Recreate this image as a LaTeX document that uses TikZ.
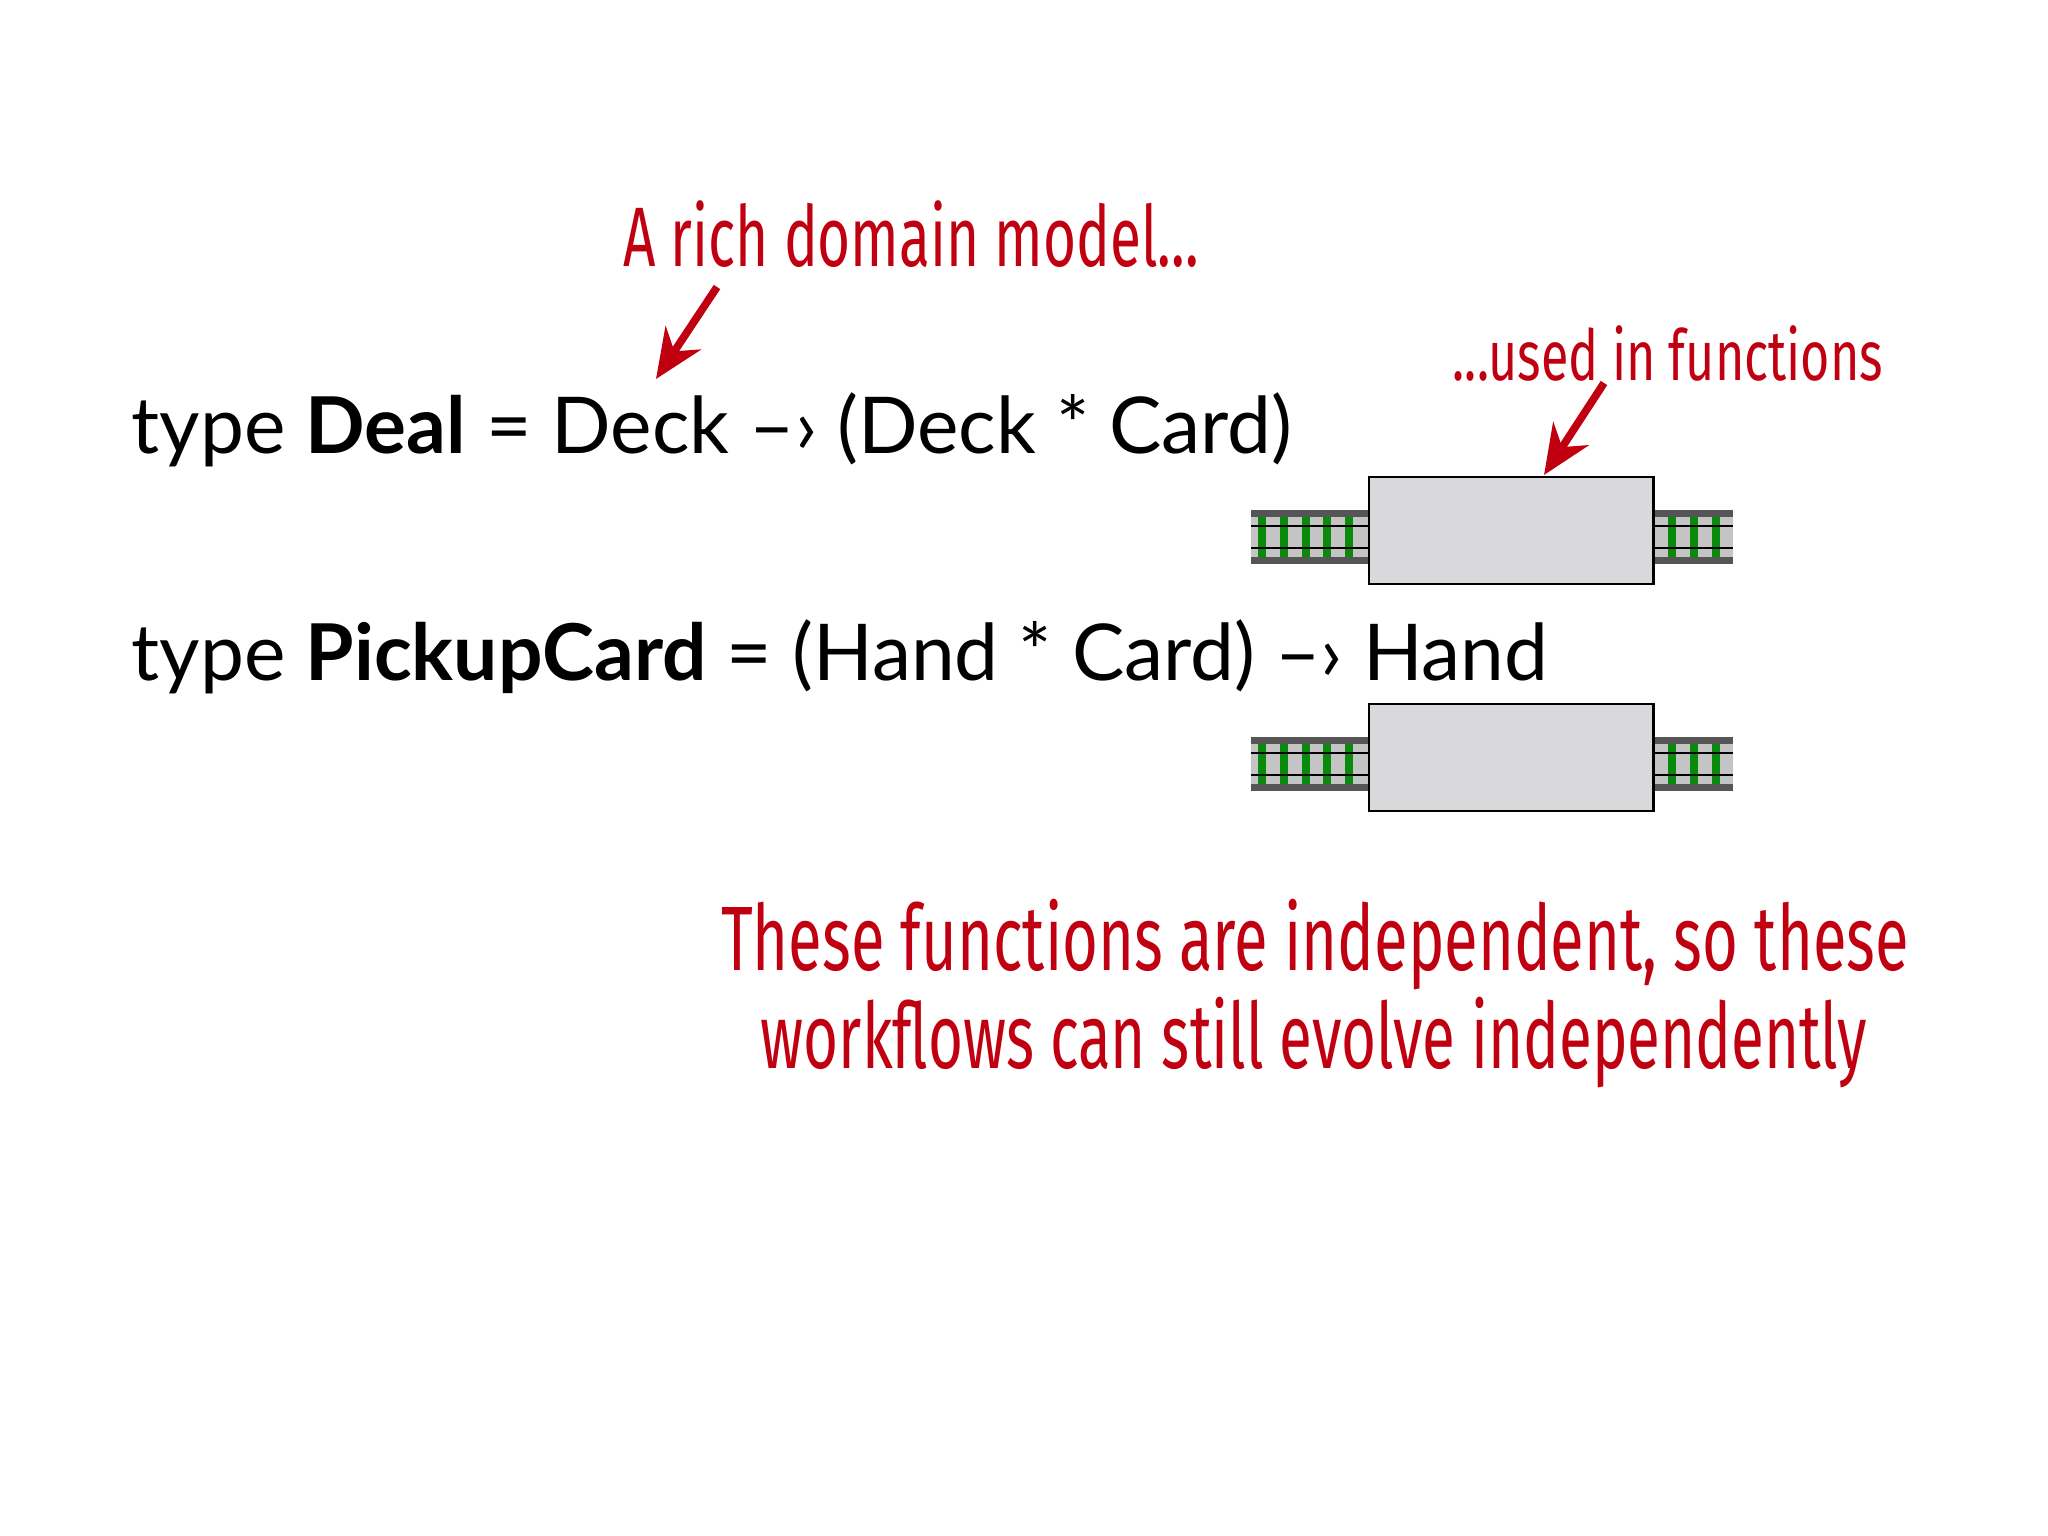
\documentclass[tikz,border=0pt]{standalone}
\usepackage{fontspec}
\usetikzlibrary{arrows.meta}
\setmainfont{Lato}
\newfontfamily\hand{Fira Sans}
\definecolor{redhand}{HTML}{C00010}
\definecolor{tie}{HTML}{0A8A0A}
\definecolor{bed}{HTML}{C4C4C4}
\definecolor{edge}{HTML}{555555}
\definecolor{boxfill}{HTML}{D9D8DB}
\begin{document}
\begin{tikzpicture}[x=0.01cm,y=-0.01cm,
  code/.style={anchor=base west,inner sep=0,font=\fontsize{22.3}{26}\selectfont},
  note/.style={inner sep=0,text=redhand,font=\hand\fontsize{24}{28}\selectfont},
  redarrow/.style={draw=redhand,line width=2.2pt,-{Stealth[length=14pt,width=12pt]}},
  fbox/.style={draw=black,line width=0.8pt,fill=boxfill}]
\useasboundingbox (0,0) rectangle (2048,1536);
\node[code] (t1) at (131,453) {type \textbf{Deal} = Deck –› (Deck * Card)};
\node[code] (t2) at (131,680) {type \textbf{PickupCard} = (Hand * Card) –› Hand};
\foreach \o/\n in {0/a,227/b}{
  \begin{scope}[yshift=-\o*0.01cm]
  \fill[edge] (1251,510) rectangle (1733,564);
  \fill[bed] (1251,517) rectangle (1733,557);
  \foreach \x in {1262,1284,1306,1327,1349,1672,1694,1716}
    \fill[tie] (\x-4,517) rectangle (\x+4,557);
  \draw[black,line width=0.6pt] (1251,526) -- (1733,526) (1251,548) -- (1733,548);
  \node[fbox,minimum width=2.84cm,minimum height=1.07cm,inner sep=0] (box\n) at (1511,530.5) {};
  \end{scope}}
\node[note] (n1) at (911,234) {\resizebox{5.75cm}{\height}{A rich domain model...}};
\node[note,font=\hand\fontsize{20}{24}\selectfont] (n2) at (1668,353) {\resizebox{4.3cm}{\height}{...used in functions}};
\coordinate (a1s) at (717,287);
\coordinate (a1e) at (656,379);
\coordinate (a2s) at (1604,383);
\coordinate (a2e) at (1544,475);
\draw[redarrow] (a1s) -- (a1e);
\draw[redarrow] (a2s) -- (a2e);
\node[note,font=\hand\fontsize{26}{30}\selectfont] (n3) at (1315,945)
  {\resizebox{11.87cm}{\height}{These functions are independent, so these}};
\node[note,font=\hand\fontsize{26}{30}\selectfont] (n4) at (1314,1043)
  {\resizebox{11.06cm}{\height}{workflows can still evolve independently}};
\end{tikzpicture}
\end{document}
